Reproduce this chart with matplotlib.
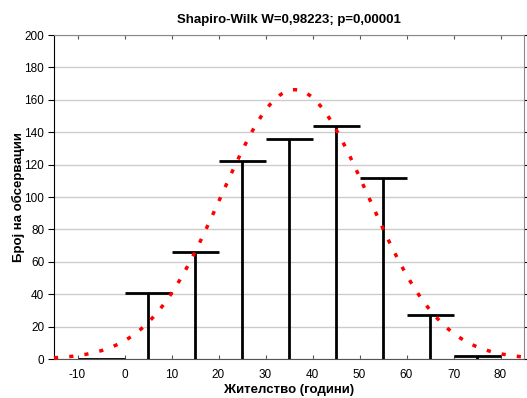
import numpy as np
import matplotlib
matplotlib.use('Agg')
import matplotlib.pyplot as plt

plt.rcParams['font.family'] = ['Liberation Sans', 'DejaVu Sans']
plt.rcParams['axes.unicode_minus'] = False

# Data
bin_left = [-10, 0, 10, 20, 30, 40, 50, 60, 70]
counts = [0, 41, 66, 122, 136, 144, 112, 27, 2]
bin_width = 10
fit_mean = 36.2
fit_sd = 15.6
x_ticks = [-10, 0, 10, 20, 30, 40, 50, 60, 70, 80]
y_ticks = [0, 20, 40, 60, 80, 100, 120, 140, 160, 180, 200]

title = "Shapiro-Wilk W=0,98223; p=0,00001"
xlabel = "Жителство (години)"
ylabel = "Број на обсервации"

W, H = 527, 398
fig = plt.figure(figsize=(W / 100, H / 100), dpi=100)
ax = fig.add_axes([54 / W, 1 - 359 / H, (524 - 54) / W, (359 - 35) / H])

ax.set_xlim(-15, 85)
ax.set_ylim(0, 200)

ax.yaxis.grid(True, color='#cccccc', lw=1)
ax.set_axisbelow(True)

n_total = sum(counts)
for l, c in zip(bin_left, counts):
    ax.hlines(c, l, l + bin_width, color='black', lw=2, zorder=3)
    if c > 0:
        ax.vlines(l + bin_width / 2, 0, c, color='black', lw=2, zorder=3)

xs = np.linspace(-15, 85, 500)
ys = n_total * bin_width * np.exp(-0.5 * ((xs - fit_mean) / fit_sd) ** 2) / (fit_sd * np.sqrt(2 * np.pi))
ax.plot(xs, ys, color='red', lw=2.5, ls=(0, (1.2, 3.2)), zorder=4, clip_on=False)

ax.set_xticks(x_ticks)
ax.set_yticks(y_ticks)
ax.tick_params(axis='x', direction='in', length=3, top=True, labelsize=8.5, pad=7, color='#555555')
ax.tick_params(axis='y', which='both', direction='out', length=4, labelsize=8.5, color='black', pad=3)
ax.tick_params(axis='y', right=True)

for s in ['top', 'right']:
    ax.spines[s].set_color('#888888')
ax.spines['bottom'].set_color('#555555')
ax.spines['left'].set_color('black')

ax.set_title(title, fontsize=9.5, fontweight='bold', pad=9)
fig.text(289 / W, 1 - 390 / H, xlabel, fontsize=9.5, fontweight='bold', ha='center', va='center')
fig.text(18 / W, 1 - 197 / H, ylabel, fontsize=9.5, fontweight='bold', ha='center', va='center', rotation=90)

fig.savefig('out.png', dpi=100)
